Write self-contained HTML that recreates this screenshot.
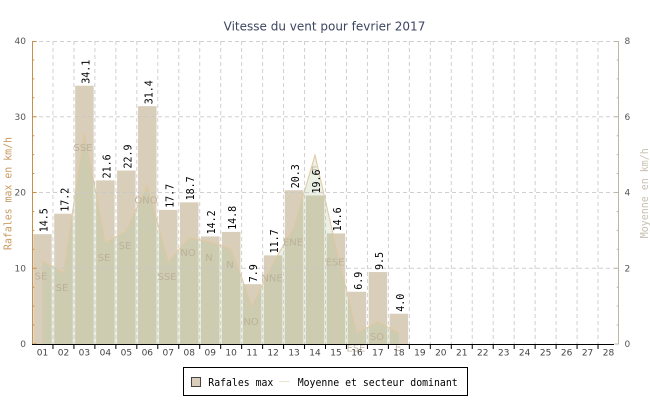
<!DOCTYPE html>
<html><head><meta charset="utf-8"><style>
html,body{margin:0;padding:0;background:#fff;}
svg{display:block;}
</style></head><body>
<svg width="650" height="400" viewBox="0 0 650 400" xmlns="http://www.w3.org/2000/svg">
<rect width="650" height="400" fill="#fff"/>
<text x="324.5" y="30.5" text-anchor="middle" font-family="DejaVu Sans, Liberation Sans, sans-serif" font-size="12" fill="#3c4560">Vitesse du vent pour fevrier 2017</text>

<!-- bars -->
<g fill="#d9ceba">
<rect x="33.23" y="234.16" width="18.5" height="109.84"/>
<rect x="54.2" y="213.71" width="18.5" height="130.29"/>
<rect x="75.16" y="85.69" width="18.5" height="258.31"/>
<rect x="96.13" y="180.38" width="18.5" height="163.62"/>
<rect x="117.09" y="170.53" width="18.5" height="173.47"/>
<rect x="138.05" y="106.15" width="18.5" height="237.85"/>
<rect x="159.02" y="209.92" width="18.5" height="134.08"/>
<rect x="179.98" y="202.35" width="18.5" height="141.65"/>
<rect x="200.95" y="236.44" width="18.5" height="107.56"/>
<rect x="221.91" y="231.89" width="18.5" height="112.11"/>
<rect x="242.88" y="284.16" width="18.5" height="59.84"/>
<rect x="263.84" y="255.37" width="18.5" height="88.63"/>
<rect x="284.8" y="190.23" width="18.5" height="153.77"/>
<rect x="305.77" y="195.53" width="18.5" height="148.47"/>
<rect x="326.73" y="233.41" width="18.5" height="110.59"/>
<rect x="347.7" y="291.73" width="18.5" height="52.27"/>
<rect x="368.66" y="272.04" width="18.5" height="71.96"/>
<rect x="389.63" y="313.7" width="18.5" height="30.3"/>
</g>

<!-- area -->
<path d="M42.48,344 L42.48,261 L63.45,272.7 L84.41,132.3 L105.38,242.7 L126.34,230.7 L147.30,185 L168.27,261.7 L189.23,237.7 L210.20,242 L231.16,249 L252.13,306 L273.09,263 L294.05,227 L315.02,155 L335.98,247 L356.95,333 L377.91,321.7 L398.88,332.7 L398.88,344 Z" fill="#abc393" fill-opacity="0.25"/>
<path d="M42.48,261 L63.45,272.7 L84.41,132.3 L105.38,242.7 L126.34,230.7 L147.30,185 L168.27,261.7 L189.23,237.7 L210.20,242 L231.16,249 L252.13,306 L273.09,263 L294.05,227 L315.02,155 L335.98,247 L356.95,333 L377.91,321.7 L398.88,332.7" fill="none" stroke="#e2c8a0" stroke-width="1"/>

<!-- grid -->
<g stroke="#c8c8c8" stroke-width="1" stroke-dasharray="4,3" fill="none" opacity="0.85">
<path d="M32,41.5H619M32,116.75H619M32,192.5H619M32,268.25H619"/>
<path d="M52.96,41V344M73.93,41V344M94.89,41V344M115.86,41V344M136.82,41V344M157.79,41V344M178.75,41V344M199.71,41V344M220.68,41V344M241.64,41V344M262.61,41V344M283.57,41V344M304.54,41V344M325.5,41V344M346.46,41V344M367.43,41V344M388.39,41V344M409.36,41V344M430.32,41V344M451.29,41V344M472.25,41V344M493.21,41V344M514.18,41V344M535.14,41V344M556.11,41V344M577.07,41V344M598.04,41V344"/>
</g>

<!-- direction labels -->
<g font-family="DejaVu Sans, Liberation Sans, sans-serif" font-size="10" fill="#b9ad97" text-anchor="middle" opacity="0.85">
<text x="41" y="279.5">SE</text>
<text x="62" y="291">SE</text>
<text x="83" y="151">SSE</text>
<text x="104" y="261">SE</text>
<text x="125" y="249">SE</text>
<text x="146" y="203.5">ONO</text>
<text x="167" y="280">SSE</text>
<text x="188" y="256">NO</text>
<text x="209" y="261">N</text>
<text x="230" y="268">N</text>
<text x="251" y="325">NO</text>
<text x="272" y="281.5">NNE</text>
<text x="293" y="245.5">ENE</text>
<text x="314" y="173.5">E</text>
<text x="335" y="265.5">ESE</text>
<text x="356" y="351.5">ESE</text>
<text x="377" y="340">SO</text>
<text x="398" y="351">E</text>
</g>

<!-- value labels -->
<g font-family="DejaVu Sans Mono, Liberation Mono, monospace" font-size="11" fill="#000">
<text transform="translate(47.5,232.2) rotate(-90)" textLength="24" lengthAdjust="spacingAndGlyphs">14.5</text>
<text transform="translate(68.5,211.7) rotate(-90)" textLength="24" lengthAdjust="spacingAndGlyphs">17.2</text>
<text transform="translate(89.4,83.7) rotate(-90)" textLength="24" lengthAdjust="spacingAndGlyphs">34.1</text>
<text transform="translate(110.4,178.4) rotate(-90)" textLength="24" lengthAdjust="spacingAndGlyphs">21.6</text>
<text transform="translate(131.3,168.5) rotate(-90)" textLength="24" lengthAdjust="spacingAndGlyphs">22.9</text>
<text transform="translate(152.3,104.2) rotate(-90)" textLength="24" lengthAdjust="spacingAndGlyphs">31.4</text>
<text transform="translate(173.3,207.9) rotate(-90)" textLength="24" lengthAdjust="spacingAndGlyphs">17.7</text>
<text transform="translate(194.2,200.4) rotate(-90)" textLength="24" lengthAdjust="spacingAndGlyphs">18.7</text>
<text transform="translate(215.2,234.4) rotate(-90)" textLength="24" lengthAdjust="spacingAndGlyphs">14.2</text>
<text transform="translate(236.2,229.9) rotate(-90)" textLength="24" lengthAdjust="spacingAndGlyphs">14.8</text>
<text transform="translate(257.1,282.2) rotate(-90)" textLength="18" lengthAdjust="spacingAndGlyphs">7.9</text>
<text transform="translate(278.1,253.4) rotate(-90)" textLength="24" lengthAdjust="spacingAndGlyphs">11.7</text>
<text transform="translate(299.1,188.2) rotate(-90)" textLength="24" lengthAdjust="spacingAndGlyphs">20.3</text>
<text transform="translate(320,193.5) rotate(-90)" textLength="24" lengthAdjust="spacingAndGlyphs">19.6</text>
<text transform="translate(341,231.4) rotate(-90)" textLength="24" lengthAdjust="spacingAndGlyphs">14.6</text>
<text transform="translate(362,289.7) rotate(-90)" textLength="18" lengthAdjust="spacingAndGlyphs">6.9</text>
<text transform="translate(382.9,270) rotate(-90)" textLength="18" lengthAdjust="spacingAndGlyphs">9.5</text>
<text transform="translate(403.9,311.7) rotate(-90)" textLength="18" lengthAdjust="spacingAndGlyphs">4.0</text>
</g>

<!-- axes -->
<path d="M32.5,41V344" stroke="#c89050" stroke-width="1"/>
<path d="M32,344H36.7M32,268.25H36.7M32,192.5H36.7M32,116.75H36.7M32,41.5H36.7M32,325.06H34.3M32,306.13H34.3M32,287.19H34.3M32,249.31H34.3M32,230.38H34.3M32,211.44H34.3M32,173.56H34.3M32,154.63H34.3M32,135.69H34.3M32,97.81H34.3M32,78.88H34.3M32,59.94H34.3" stroke="#c89050" stroke-width="1"/>
<path d="M618.5,41V344" stroke="#c0b6a6" stroke-width="1"/>
<path d="M619,344H614.3M619,268.25H614.3M619,192.5H614.3M619,116.75H614.3M619,41.5H614.3M619,325.06H616.7M619,306.13H616.7M619,287.19H616.7M619,249.31H616.7M619,230.38H616.7M619,211.44H616.7M619,173.56H616.7M619,154.63H616.7M619,135.69H616.7M619,97.81H616.7M619,78.88H616.7M619,59.94H616.7" stroke="#c0b6a6" stroke-width="1"/>
<path d="M32,344.5H614" stroke="#000" stroke-width="1"/>
<path d="M52.96,344V349M73.93,344V349M94.89,344V349M115.86,344V349M136.82,344V349M157.79,344V349M178.75,344V349M199.71,344V349M220.68,344V349M241.64,344V349M262.61,344V349M283.57,344V349M304.54,344V349M325.5,344V349M346.46,344V349M367.43,344V349M388.39,344V349M409.36,344V349M430.32,344V349M451.29,344V349M472.25,344V349M493.21,344V349M514.18,344V349M535.14,344V349M556.11,344V349M577.07,344V349M598.04,344V349" stroke="#000" stroke-width="1"/>

<!-- y labels -->
<g font-family="DejaVu Sans, Liberation Sans, sans-serif" font-size="9" fill="#555" text-anchor="end">
<text x="26" y="347">0</text>
<text x="26" y="271.3">10</text>
<text x="26" y="195.5">20</text>
<text x="26" y="119.8">30</text>
<text x="26" y="44">40</text>
</g>
<g font-family="DejaVu Sans, Liberation Sans, sans-serif" font-size="9" fill="#555">
<text x="624.5" y="347">0</text>
<text x="624.5" y="271.3">2</text>
<text x="624.5" y="195.5">4</text>
<text x="624.5" y="119.8">6</text>
<text x="624.5" y="44">8</text>
</g>
<!-- x labels -->
<g font-family="DejaVu Sans, Liberation Sans, sans-serif" font-size="9" fill="#444" text-anchor="middle">
<text x="42.48" y="355.5">01</text><text x="63.45" y="355.5">02</text><text x="84.41" y="355.5">03</text><text x="105.38" y="355.5">04</text><text x="126.34" y="355.5">05</text><text x="147.30" y="355.5">06</text><text x="168.27" y="355.5">07</text><text x="189.23" y="355.5">08</text><text x="210.20" y="355.5">09</text><text x="231.16" y="355.5">10</text><text x="252.13" y="355.5">11</text><text x="273.09" y="355.5">12</text><text x="294.05" y="355.5">13</text><text x="315.02" y="355.5">14</text><text x="335.98" y="355.5">15</text><text x="356.95" y="355.5">16</text><text x="377.91" y="355.5">17</text><text x="398.88" y="355.5">18</text><text x="419.84" y="355.5">19</text><text x="440.80" y="355.5">20</text><text x="461.77" y="355.5">21</text><text x="482.73" y="355.5">22</text><text x="503.70" y="355.5">23</text><text x="524.66" y="355.5">24</text><text x="545.63" y="355.5">25</text><text x="566.59" y="355.5">26</text><text x="587.55" y="355.5">27</text><text x="608.52" y="355.5">28</text>
</g>

<!-- axis titles -->
<text transform="translate(11.5,193.5) rotate(-90)" text-anchor="middle" font-family="DejaVu Sans Mono, Liberation Mono, monospace" font-size="11" fill="#c89a60" textLength="113" lengthAdjust="spacingAndGlyphs">Rafales max en km/h</text>
<text transform="translate(648,193.3) rotate(-90)" text-anchor="middle" font-family="DejaVu Sans Mono, Liberation Mono, monospace" font-size="11" fill="#c8c0b0" textLength="90" lengthAdjust="spacingAndGlyphs">Moyenne en km/h</text>

<!-- legend -->
<rect x="183.5" y="367.5" width="284" height="28" fill="#fff" stroke="#000" stroke-width="1"/>
<rect x="191.5" y="377.5" width="9" height="9" fill="#d9ceba" stroke="#444" stroke-width="1"/>
<text x="208.3" y="386" font-family="DejaVu Sans Mono, Liberation Mono, monospace" font-size="11" fill="#000" textLength="65" lengthAdjust="spacingAndGlyphs">Rafales max</text>
<path d="M279,381.5H289.5" stroke="#ece2d0" stroke-width="1"/>
<text x="297.7" y="386" font-family="DejaVu Sans Mono, Liberation Mono, monospace" font-size="11" fill="#000" textLength="160" lengthAdjust="spacingAndGlyphs">Moyenne et secteur dominant</text>
</svg>
</body></html>
